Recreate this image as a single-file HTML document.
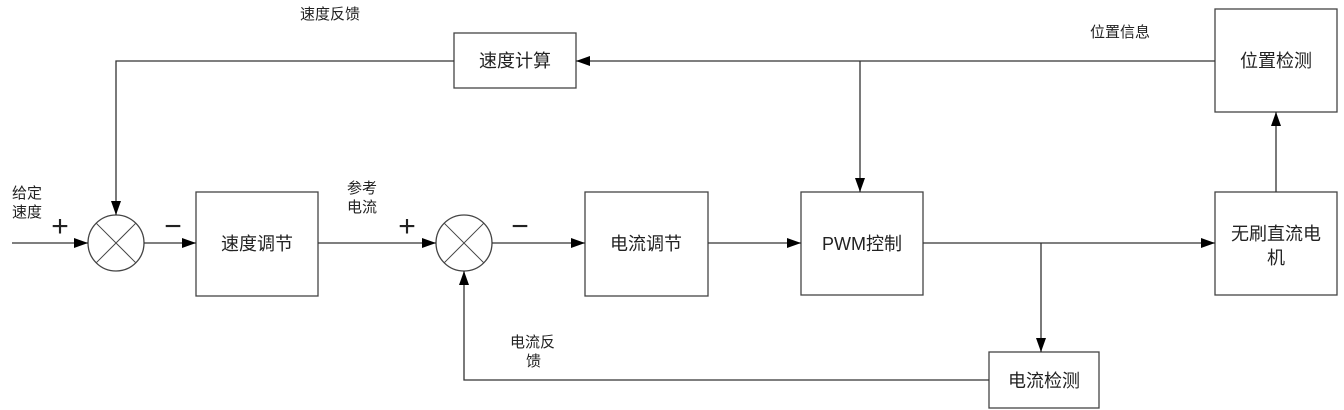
<!DOCTYPE html>
<html><head><meta charset="utf-8"><style>
html,body{margin:0;padding:0;background:#fff;width:1344px;height:410px;overflow:hidden}
svg text{font-family:"Liberation Sans","Noto Sans CJK SC",sans-serif;fill:#222}
</style></head><body>
<svg width="1344" height="410" viewBox="0 0 1344 410" xmlns="http://www.w3.org/2000/svg">
<defs><marker id="a" markerWidth="14" markerHeight="10" refX="14" refY="5" orient="auto" markerUnits="userSpaceOnUse"><path d="M0,0 L14,5 L0,10 z" fill="#000"/></marker></defs>
<g fill="#fff" stroke="#444" stroke-width="1.3">
<rect x="454" y="33" width="122" height="55"/>
<rect x="1215" y="9" width="122" height="103"/>
<rect x="196" y="192" width="122" height="104"/>
<rect x="585" y="192" width="123" height="104"/>
<rect x="801" y="192" width="122" height="103"/>
<rect x="1215" y="192" width="122" height="103"/>
<rect x="989" y="352" width="110" height="56"/>
<circle cx="116" cy="243" r="28"/>
<circle cx="464" cy="243" r="28"/>
</g>
<g stroke="#444" stroke-width="1" fill="none">
<path d="M96.2,223.2 L135.8,262.8 M135.8,223.2 L96.2,262.8"/>
<path d="M444.2,223.2 L483.8,262.8 M483.8,223.2 L444.2,262.8"/>
</g>
<g stroke="#333" stroke-width="1.3" fill="none" marker-end="url(#a)">
<path d="M12,243 H88"/>
<path d="M144,243 H196"/>
<path d="M318,243 H436"/>
<path d="M492,243 H585"/>
<path d="M708,243 H801"/>
<path d="M923,243 H1215"/>
<path d="M1041,243 V352"/>
<path d="M1276,192 V112"/>
<path d="M1215,61 H576"/>
<path d="M860,61 V192"/>
<path d="M454,61 H116 V215"/>
<path d="M989,380 H464 V271"/>
</g>
<g font-size="18" text-anchor="middle">
<text x="515" y="67">速度计算</text>
<text x="1276" y="67">位置检测</text>
<text x="257" y="250">速度调节</text>
<text x="646" y="250">电流调节</text>
<text x="862" y="250">PWM控制</text>
<text x="1276" y="240">无刷直流电</text>
<text x="1276" y="264">机</text>
<text x="1044" y="387">电流检测</text>
</g>
<g font-size="15">
<text x="300" y="19">速度反馈</text>
<text x="1090" y="37">位置信息</text>
<text x="12" y="198">给定</text>
<text x="12" y="217">速度</text>
<text x="347" y="193">参考</text>
<text x="347" y="212">电流</text>
<text x="510" y="347">电流反</text>
<text x="526" y="366">馈</text>
</g>
<g font-size="30" text-anchor="middle">
<text x="60" y="236">+</text>
<text x="173" y="236">−</text>
<text x="407" y="236">+</text>
<text x="520" y="236">−</text>
</g>
</svg>
</body></html>
